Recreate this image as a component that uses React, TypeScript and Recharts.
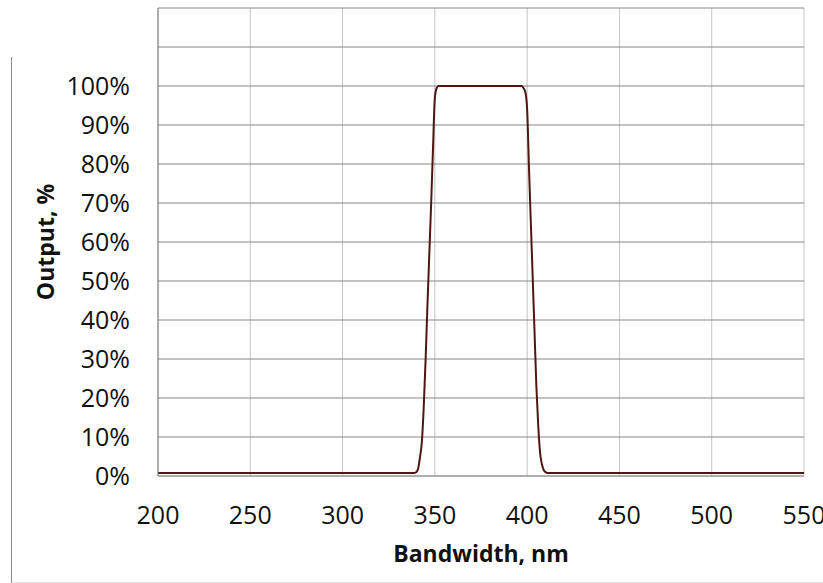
import React from 'react';
import {
  LineChart,
  Line,
  XAxis,
  YAxis,
  CartesianGrid,
} from 'recharts';

// Filter transmission curve: wavelength (nm) vs output (%)
const wavelengths = [
  200, 339, 340, 341, 342, 343, 344, 345, 346, 347, 348, 349, 350, 351, 352,
  397, 398, 399, 400, 401, 402, 403, 404, 405, 406, 407, 408, 409, 410, 411, 550,
];
const outputPct = [
  0.8, 0.8, 1.0, 2, 5, 9, 18, 30, 44, 57, 70, 84, 97, 99.5, 100,
  100, 99.5, 98.5, 94, 79, 65, 51, 37, 23, 13, 6, 3, 1.5, 1, 0.8, 0.8,
];

const xTicks = [200, 250, 300, 350, 400, 450, 500, 550];
const yTicks = [0, 10, 20, 30, 40, 50, 60, 70, 80, 90, 100, 110, 120];

const chartData = wavelengths.map((nm, i) => ({ nm, output: outputPct[i] }));

const FONT = '"Open Sans", sans-serif';

function YTitle({ viewBox }: any) {
  const cx = viewBox.x + 45;
  const cy = viewBox.y + viewBox.height / 2;
  return (
    <text
      x={cx}
      y={cy}
      transform={`rotate(-90 ${cx} ${cy})`}
      textAnchor="middle"
      dominantBaseline="central"
      fontFamily={FONT}
      fontWeight="bold"
      fontSize={23}
      fill="#111"
    >
      Output, %
    </text>
  );
}

function XTitle({ viewBox }: any) {
  const cx = viewBox.x + viewBox.width / 2;
  return (
    <text
      x={cx}
      y={viewBox.y + 86}
      textAnchor="middle"
      fontFamily={FONT}
      fontWeight="bold"
      fontSize={23}
      fill="#111"
    >
      Bandwidth, nm
    </text>
  );
}

export default function App() {
  return (
    <div style={{ position: 'absolute', left: 0, top: 0, width: 823, height: 583, background: '#fff' }}>
      {/* outer frame, partly visible on the left and bottom */}
      <div
        style={{
          position: 'absolute',
          left: 11,
          top: 57,
          width: 812,
          height: 525,
          borderLeft: '1px solid #8a8a8a',
          borderBottom: '1px solid #e2e2e2',
        }}
      />
      <LineChart
        width={823}
        height={583}
        data={chartData}
        margin={{ top: 8, right: 19, bottom: 0, left: 0 }}
        style={{ position: 'absolute', left: 0, top: 0 }}
      >
        <CartesianGrid horizontal={false} stroke="#c4c4c4" strokeWidth={1} />
        <CartesianGrid vertical={false} stroke="#868686" strokeWidth={1} />
        <XAxis
          dataKey="nm"
          type="number"
          domain={[200, 550]}
          ticks={xTicks}
          height={107}
          tickLine={false}
          tickSize={0}
          tickMargin={30}
          axisLine={{ stroke: '#9a9a9a' }}
          tick={{ fill: '#111', fontSize: 25, fontFamily: FONT }}
          label={<XTitle />}
        />
        <YAxis
          type="number"
          domain={[0, 120]}
          ticks={yTicks}
          width={158}
          tickLine={false}
          tickSize={0}
          tickMargin={28}
          axisLine={{ stroke: '#7a7a7a' }}
          tick={{ fill: '#111', fontSize: 25, fontFamily: FONT }}
          tickFormatter={(v: number) => (v <= 100 ? `${v}%` : '')}
          label={<YTitle />}
        />
        <Line
          type="monotone"
          dataKey="output"
          stroke="#4e1812"
          strokeWidth={2}
          dot={false}
          isAnimationActive={false}
        />
      </LineChart>
    </div>
  );
}
